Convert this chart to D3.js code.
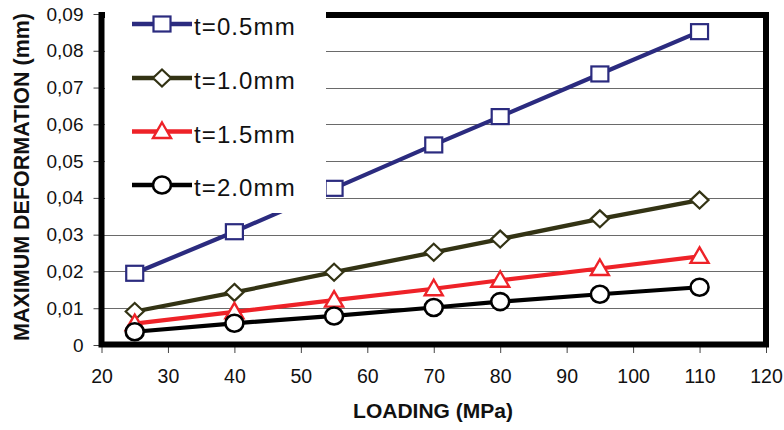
<!DOCTYPE html>
<html>
<head>
<meta charset="utf-8">
<script src="https://cdn.jsdelivr.net/npm/d3@7"></script>
<style>
  html, body { margin: 0; padding: 0; background: #fff; }
  svg { display: block; }
  svg text { font-family: Arial, "Liberation Sans", sans-serif; }
</style>
</head>
<body>
<svg id="chart" width="784" height="430"></svg>
<script>
const loads = [25, 40, 55, 70, 80, 95, 110];
const seriesNames = ["t=0.5mm", "t=1.0mm", "t=1.5mm", "t=2.0mm"];
const t05 = [0.0195, 0.0308, 0.0426, 0.0544, 0.0621, 0.0737, 0.0852];
const t10 = [0.0091, 0.0143, 0.0198, 0.0252, 0.0288, 0.0343, 0.0394];
const t15 = [0.0058, 0.0090, 0.0122, 0.0153, 0.0176, 0.0208, 0.0241];
const t20 = [0.0036, 0.0059, 0.0079, 0.0102, 0.0118, 0.0138, 0.0157];
const xTicks = [20, 30, 40, 50, 60, 70, 80, 90, 100, 110, 120];
const yTicks = [0, 0.01, 0.02, 0.03, 0.04, 0.05, 0.06, 0.07, 0.08, 0.09];
const yTickLabels = ["0", "0,01", "0,02", "0,03", "0,04", "0,05", "0,06", "0,07", "0,08", "0,09"];
const xTitle = "LOADING (MPa)";
const yTitle = "MAXIMUM DEFORMATION (mm)";

const colors = ["#2b2b7f", "#333314", "#ee2228", "#000000"];
const shapes = ["square", "diamond", "triangle", "circle"];
const allValues = [t05, t10, t15, t20];

const FONT = "Arial, 'Liberation Sans', sans-serif";
const svg = d3.select("#chart");
const L = 101.5, R = 766, T = 14, B = 345;
const x = d3.scaleLinear().domain([20, 120]).range([L, R]);
const y = d3.scaleLinear().domain([0, 0.09]).range([B, T]);

// gridlines
svg.append("g").selectAll("line").data(yTicks.filter(d => d > 0 && d < 0.09)).join("line")
  .attr("x1", L).attr("x2", R)
  .attr("y1", d => Math.round(y(d)) + 0.5).attr("y2", d => Math.round(y(d)) + 0.5)
  .attr("stroke", "#6a6a6a").attr("stroke-width", 1);

// axes (ticks + labels)
const xAxis = d3.axisBottom(x).tickValues(xTicks).tickSize(8).tickPadding(16).tickFormat(d3.format("d"));
const gx = svg.append("g").attr("transform", `translate(0,${B})`).call(xAxis)
  .attr("font-family", FONT);
gx.select(".domain").remove();
gx.selectAll(".tick line").attr("stroke", "#444");
gx.selectAll(".tick text").attr("font-size", 19.5).attr("fill", "#111");

const yAxis = d3.axisLeft(y).tickValues(yTicks).tickSize(8).tickPadding(10)
  .tickFormat((d, i) => yTickLabels[i]);
const gy = svg.append("g").attr("transform", `translate(${L},0)`).call(yAxis)
  .attr("font-family", FONT);
gy.select(".domain").remove();
gy.selectAll(".tick line").attr("stroke", "#444");
gy.selectAll(".tick text").attr("font-size", 19).attr("fill", "#111");

// thick frame
svg.append("rect").attr("x", L).attr("y", T + 1).attr("width", R - L).attr("height", B - T - 1.5)
  .attr("fill", "none").attr("stroke", "#000").attr("stroke-width", 6);

// marker generator
function drawMarker(g, shape, cx, cy, color) {
  if (shape === "square") {
    g.append("rect").attr("x", cx - 8.5).attr("y", cy - 7.5).attr("width", 17).attr("height", 15)
      .attr("fill", "#fff").attr("stroke", color).attr("stroke-width", 2.2);
  } else if (shape === "diamond") {
    g.append("path").attr("d", `M${cx},${cy - 8.5}L${cx + 9},${cy}L${cx},${cy + 8.5}L${cx - 9},${cy}Z`)
      .attr("fill", "#fff").attr("stroke", color).attr("stroke-width", 2.2);
  } else if (shape === "triangle") {
    g.append("path").attr("d", `M${cx},${cy - 9}L${cx + 9},${cy + 6.5}L${cx - 9},${cy + 6.5}Z`)
      .attr("fill", "#fff").attr("stroke", color).attr("stroke-width", 2.4);
  } else {
    g.append("ellipse").attr("cx", cx).attr("cy", cy).attr("rx", 9).attr("ry", 8.5)
      .attr("fill", "#fff").attr("stroke", color).attr("stroke-width", 2.6);
  }
}

const line = d3.line().x(d => x(d[0])).y(d => y(d[1]));
allValues.forEach((vals, i) => {
  const pts = loads.map((l, j) => [l, vals[j]]);
  const g = svg.append("g");
  g.append("path").datum(pts).attr("d", line).attr("fill", "none")
    .attr("stroke", colors[i]).attr("stroke-width", 4.2);
  pts.forEach(p => drawMarker(g, shapes[i], x(p[0]), y(p[1]), colors[i]));
});

// legend box covering part of the plot
svg.append("rect").attr("x", 105).attr("y", 0).attr("width", 221).attr("height", 213).attr("fill", "#fff");
const legendY = [24, 78, 131.5, 185];
seriesNames.forEach((name, i) => {
  const g = svg.append("g");
  g.append("line").attr("x1", 132).attr("x2", 192).attr("y1", legendY[i]).attr("y2", legendY[i])
    .attr("stroke", colors[i]).attr("stroke-width", 4.4);
  drawMarker(g, shapes[i], 162, legendY[i], colors[i]);
  g.append("text").attr("x", 194).attr("y", legendY[i] + 11).attr("font-family", FONT)
    .attr("font-size", 24).attr("letter-spacing", 1.1).attr("fill", "#111").text(name);
});

// axis titles
svg.append("text").attr("x", 433).attr("y", 418).attr("text-anchor", "middle").attr("font-family", FONT)
  .attr("font-size", 21).attr("font-weight", "bold").attr("fill", "#111").text(xTitle);
svg.append("text").attr("transform", "translate(29,177) rotate(-90)").attr("text-anchor", "middle")
  .attr("font-family", FONT)
  .attr("font-size", 21.5).attr("font-weight", "bold").attr("fill", "#111").text(yTitle);
</script>
</body>
</html>
